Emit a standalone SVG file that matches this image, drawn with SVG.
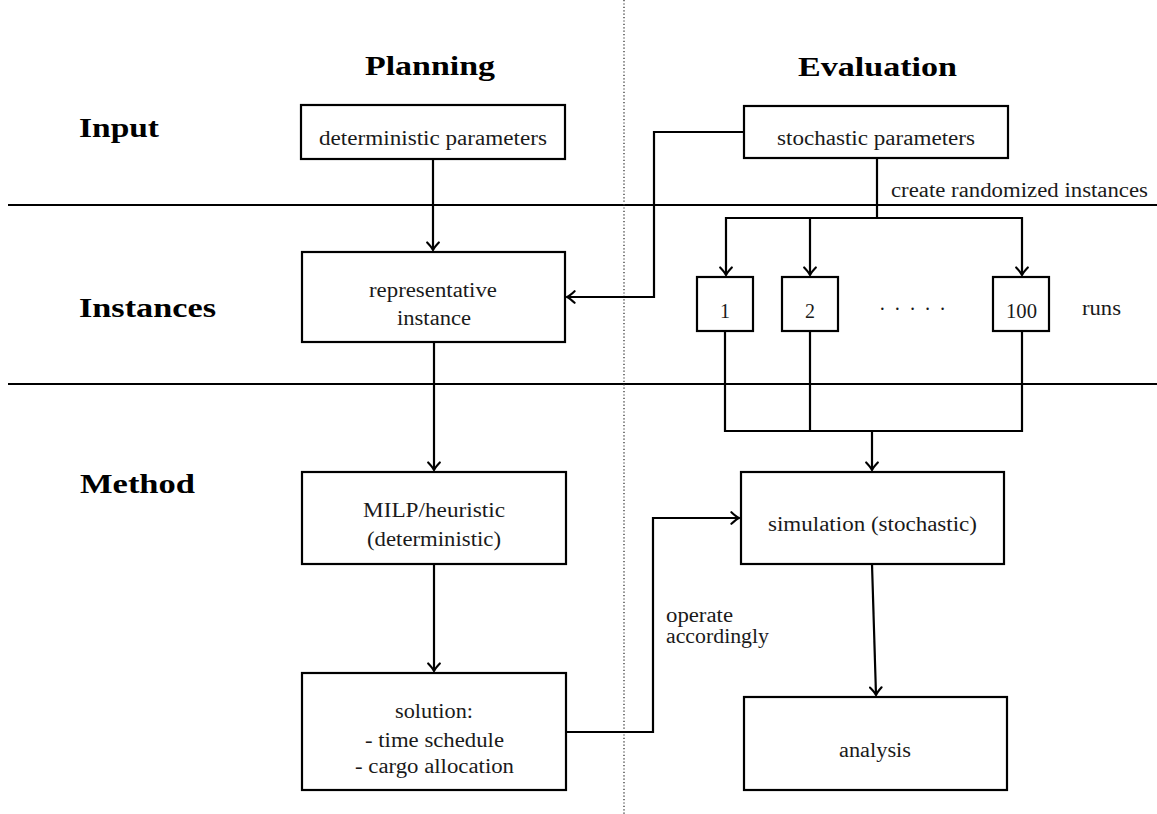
<svg xmlns="http://www.w3.org/2000/svg" width="1157" height="814" viewBox="0 0 1157 814">
<defs>
<style>
.box{fill:#fff;stroke:#000;stroke-width:2.2}
.ln{fill:none;stroke:#000;stroke-width:2.2}
.sep{fill:none;stroke:#000;stroke-width:2}
.t{font-family:"Liberation Serif","Times New Roman",serif;font-size:20px;fill:#1a1a1a}
.h{font-family:"Liberation Serif","Times New Roman",serif;font-size:28px;font-weight:bold;fill:#000}
</style>
<marker id="ah" markerUnits="userSpaceOnUse" markerWidth="14" markerHeight="14" viewBox="-8 -6 10 12" refX="0" refY="0" orient="auto">
<path d="M-6.5,-5 Q-2.5,-1.2 0,0 Q-2.5,1.2 -6.5,5" fill="none" stroke="#000" stroke-width="1.8" stroke-linecap="round"/>
</marker>
</defs>
<rect width="1157" height="814" fill="#fff"/>

<g id="separators">
<line class="sep" x1="8" y1="205" x2="1157" y2="205"/>
<line class="sep" x1="8" y1="384" x2="1157" y2="384"/>
<line x1="624" y1="0" x2="624" y2="814" stroke="#333" stroke-width="1.3" stroke-dasharray="1.2 2.2"/>
</g>

<g id="headers">
<text class="h" x="365" y="75" textLength="130" lengthAdjust="spacingAndGlyphs">Planning</text>
<text class="h" x="798" y="76" textLength="159" lengthAdjust="spacingAndGlyphs">Evaluation</text>
<text class="h" x="79" y="137" textLength="80" lengthAdjust="spacingAndGlyphs">Input</text>
<text class="h" x="79" y="317" textLength="137" lengthAdjust="spacingAndGlyphs">Instances</text>
<text class="h" x="80" y="493" textLength="115" lengthAdjust="spacingAndGlyphs">Method</text>
</g>

<g id="connectors">
<path class="ln" d="M433,159 V250" marker-end="url(#ah)"/>
<path class="ln" d="M744,132 H654 V297 H567" marker-end="url(#ah)"/>
<path class="ln" d="M877,158 V218"/>
<path class="ln" d="M877,218 H726 V275" marker-end="url(#ah)"/>
<path class="ln" d="M810,218 V275" marker-end="url(#ah)"/>
<path class="ln" d="M877,218 H1022 V275" marker-end="url(#ah)"/>
<path class="ln" d="M725,331 V431 H1022 V331"/>
<path class="ln" d="M810,331 V431"/>
<path class="ln" d="M872,431 V470" marker-end="url(#ah)"/>
<path class="ln" d="M434,342 V470" marker-end="url(#ah)"/>
<path class="ln" d="M434,564 V671" marker-end="url(#ah)"/>
<path class="ln" d="M566,732 H653 V518 H739" marker-end="url(#ah)"/>
<path class="ln" d="M872,564 L876,695" marker-end="url(#ah)"/>
<text class="t" x="666" y="622" textLength="67" lengthAdjust="spacingAndGlyphs">operate</text>
<text class="t" x="666" y="643" textLength="103" lengthAdjust="spacingAndGlyphs">accordingly</text>
<text class="t" x="891" y="197" textLength="257" lengthAdjust="spacingAndGlyphs">create randomized instances</text>
</g>

<g id="det-params">
<rect class="box" x="301" y="105" width="264" height="54"/>
<text class="t" x="319" y="145" textLength="228" lengthAdjust="spacingAndGlyphs">deterministic parameters</text>
</g>

<g id="stoch-params">
<rect class="box" x="744" y="106" width="264" height="52"/>
<text class="t" x="777" y="145" textLength="198" lengthAdjust="spacingAndGlyphs">stochastic parameters</text>
</g>

<g id="rep-instance">
<rect class="box" x="302" y="252" width="263" height="90"/>
<text class="t" x="369" y="297" textLength="128" lengthAdjust="spacingAndGlyphs">representative</text>
<text class="t" x="397" y="325" textLength="74" lengthAdjust="spacingAndGlyphs">instance</text>
</g>

<g id="run-1">
<rect class="box" x="697" y="277" width="56" height="54"/>
<text class="t" x="725" y="318" text-anchor="middle">1</text>
</g>

<g id="run-2">
<rect class="box" x="782" y="277" width="56" height="54"/>
<text class="t" x="810" y="318" text-anchor="middle">2</text>
</g>

<g id="run-dots">
<text class="t" x="879" y="316" textLength="67" lengthAdjust="spacing">· · · · ·</text>
</g>

<g id="run-100">
<rect class="box" x="993" y="277" width="56" height="54"/>
<text class="t" x="1006" y="318" textLength="31" lengthAdjust="spacingAndGlyphs">100</text>
</g>

<g id="runs-label">
<text class="t" x="1082" y="315" textLength="39" lengthAdjust="spacingAndGlyphs">runs</text>
</g>

<g id="milp">
<rect class="box" x="302" y="472" width="264" height="92"/>
<text class="t" x="363" y="517" textLength="142" lengthAdjust="spacingAndGlyphs">MILP/heuristic</text>
<text class="t" x="367" y="546" textLength="134" lengthAdjust="spacingAndGlyphs">(deterministic)</text>
</g>

<g id="solution">
<rect class="box" x="302" y="673" width="264" height="117"/>
<text class="t" x="395" y="718" textLength="78" lengthAdjust="spacingAndGlyphs">solution:</text>
<text class="t" x="365" y="747" textLength="139" lengthAdjust="spacingAndGlyphs">- time schedule</text>
<text class="t" x="355" y="773" textLength="159" lengthAdjust="spacingAndGlyphs">- cargo allocation</text>
</g>

<g id="simulation">
<rect class="box" x="741" y="472" width="263" height="92"/>
<text class="t" x="768" y="531" textLength="209" lengthAdjust="spacingAndGlyphs">simulation (stochastic)</text>
</g>

<g id="analysis">
<rect class="box" x="744" y="697" width="263" height="93"/>
<text class="t" x="839" y="757" textLength="72" lengthAdjust="spacingAndGlyphs">analysis</text>
</g>
</svg>
